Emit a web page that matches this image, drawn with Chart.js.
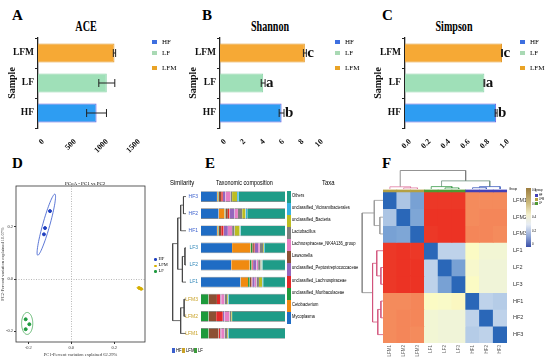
<!DOCTYPE html>
<html>
<head>
<meta charset="utf-8">
<script src="https://cdn.jsdelivr.net/npm/chart.js@4.4.1/dist/chart.umd.min.js"></script>
<style>
  body { margin: 0; width: 550px; height: 360px; position: relative; overflow: hidden; background: #fff; font-family: "Liberation Serif", serif; }
  canvas { position: absolute; }
  .t { position: absolute; white-space: nowrap; line-height: 1; }
  .L { font-weight: bold; font-size: 15px; }
  .ttl { font-weight: bold; font-size: 14px; transform: translate(-50%, -50%) scaleX(0.72); }
  .s5 { font-family: "Liberation Sans", sans-serif; transform-origin: left center; transform: scaleX(0.85); }
</style>
</head>
<body>
<div class="t L" style="left:12px;top:8px">A</div>
<div class="t L" style="left:202px;top:8px">B</div>
<div class="t L" style="left:382px;top:8px">C</div>
<div class="t L" style="left:12px;top:156px">D</div>
<div class="t L" style="left:205px;top:156px">E</div>
<div class="t L" style="left:382px;top:156px">F</div>

<div class="t ttl" style="left:86px;top:27px">ACE</div>
<div class="t ttl" style="left:270px;top:27px">Shannon</div>
<div class="t ttl" style="left:454px;top:27px">Simpson</div>

<canvas id="cA" width="175" height="160" style="left:0;top:0"></canvas>
<canvas id="cB" width="168" height="160" style="left:187px;top:0"></canvas>
<canvas id="cC" width="178" height="160" style="left:372px;top:0"></canvas>
<canvas id="cD" width="175" height="200" style="left:0;top:160px"></canvas>
<canvas id="cEd" width="16" height="154" style="left:170px;top:188px"></canvas>
<canvas id="cE" width="110" height="200" style="left:180px;top:160px"></canvas>
<canvas id="cFt" width="124" height="22" style="left:383px;top:167px"></canvas>
<canvas id="cFl" width="25" height="151" style="left:358px;top:192px"></canvas>
<canvas id="cF" width="195" height="200" style="left:355px;top:160px"></canvas>

<div class="t" style="left:65px;top:181px;font-size:5px">PCoA - PC1 vs PC2</div>

<div class="t s5" style="left:170px;top:179px;font-size:7px">Similarity</div>
<div class="t s5" style="left:216px;top:179px;font-size:7px;transform:scaleX(0.78)">Taxonomic composition</div>
<div class="t s5" style="left:322px;top:179px;font-size:7px">Taxa</div>

<script>
// ---- A, B, C : alpha diversity ----
const groups = ["LFM", "LF", "HF"];
const groupFill = ["#f6a935", "#9fe0b8", "#2e9df2"];
const groupEdge = ["#e39a2c", "#8ed4aa", "#6a5fe0"];
const legendOrder = ["HF", "LF", "LFM"];
const legendColors = ["#3d6fe0", "#a9d9b4", "#e9a326"];

const aceMean = [1195, 1075, 915];
const aceErr = [18, 125, 155];
const aceTicks = [0, 500, 1000, 1500];

const shannonMean = [8.75, 4.45, 6.35];
const shannonErr = [0.15, 0.2, 0.25];
const shannonSig = ["c", "a", "b"];
const shannonTicks = [0, 2, 4, 6, 8, 10];

const simpsonMean = [0.99, 0.81, 0.93];
const simpsonErr = [0.004, 0.004, 0.01];
const simpsonSig = ["c", "a", "b"];
const simpsonTicks = [0, 0.2, 0.4, 0.6, 0.8, 1.0];

// ---- D : PCoA ----
const pcTicks = [-0.2, 0, 0.2];
const hfPts = [{x: -0.099, y: 0.260}, {x: -0.122, y: 0.195}, {x: -0.127, y: 0.171}];
const lfmPts = [{x: 0.315, y: -0.034}, {x: 0.320, y: -0.036}, {x: 0.325, y: -0.038}];
const lfPts = [{x: -0.212, y: -0.154}, {x: -0.195, y: -0.173}, {x: -0.212, y: -0.192}];
const ellCenter = [[-0.116, 0.208], [0.320, -0.036], [-0.205, -0.170]];
const ellAxisA = [[0.040, 0.117], [0.015, -0.003], [0.026, 0]];
const ellAxisB = [[0.0157, -0.0037], [0.0005, 0.004], [0, 0.042]];

// ---- E : taxonomic composition ----
const eSamples = ["HF3", "HF2", "HF1", "LF3", "LF2", "LF1", "LFM3", "LFM2", "LFM1"];
const taxa = ["Mycoplasma", "Cetobacterium", "unclassified_Muribaculaceae", "Lawsonella",
  "unclassified_Lachnospiraceae", "unclassified_Peptostreptococcaceae", "Lachnospiraceae_NK4A136_group",
  "Lactobacillus", "unclassified_Bacteria", "unclassified_Vicinamibacterales", "Others"];
const mycoplasma = [19, 21, 19, 37, 36, 47, 0, 0, 0];
const cetobacterium = [1, 7, 1, 22, 22, 9, 0, 0, 0];
const muribaculaceae = [1, 1, 1, 2, 2, 2, 9, 9, 9];
const lawsonella = [3, 3, 3, 2, 1, 2, 10, 9, 12];
const lachnospiraceae = [2, 2, 3, 1, 1, 1, 4, 8, 2];
const peptostrep = [3, 6, 5, 4, 4, 3, 1, 2, 1];
const nk4a136 = [6, 4, 5, 2, 2, 2, 4, 6, 4];
const lactobacillus = [2, 5, 3, 4, 3, 3, 3, 2, 3];
const bacteria = [6, 4, 6, 1, 1, 4, 1, 1, 1];
const vicinamibacterales = [2, 2, 1, 1, 1, 1, 1, 0, 1];
const others = [55, 45, 53, 24, 27, 26, 67, 63, 67];
const taxaValues = [mycoplasma, cetobacterium, muribaculaceae, lawsonella, lachnospiraceae, peptostrep,
  nk4a136, lactobacillus, bacteria, vicinamibacterales, others];
const taxaColors = ["#1f6cc4", "#f08a10", "#1e9a3c", "#8c4f33", "#e2282a", "#9467bd",
  "#e67fc4", "#7f7f7f", "#bcbd22", "#38b2e2", "#1f9c88"];
const taxaLegend = ["Others", "unclassified_Vicinamibacterales", "unclassified_Bacteria", "Lactobacillus",
  "Lachnospiraceae_NK4A136_group", "Lawsonella", "unclassified_Peptostreptococcaceae",
  "unclassified_Lachnospiraceae", "unclassified_Muribaculaceae", "Cetobacterium", "Mycoplasma"];
// merges: [childA, childB, height]; leaves are 0..8, merge k is node 9+k
const eTree = [[0, 1, 0.19], [9, 2, 0.40], [3, 4, 0.08], [11, 5, 0.27], [6, 7, 0.14], [13, 8, 0.40], [10, 12, 0.62], [15, 14, 1.0]];

// ---- F : distance heatmap ----
const fSamples = ["LFM1", "LFM2", "LFM3", "LF1", "LF2", "LF3", "HF1", "HF2", "HF3"];
const fGroups = ["LFM", "LFM", "LFM", "LF", "LF", "LF", "HF", "HF", "HF"];
const bcDist = [
  [0.00, 0.18, 0.12, 0.96, 0.96, 0.96, 0.80, 0.80, 0.80],
  [0.18, 0.00, 0.13, 0.97, 0.97, 0.97, 0.80, 0.81, 0.81],
  [0.12, 0.13, 0.00, 0.96, 0.97, 0.97, 0.81, 0.81, 0.80],
  [0.96, 0.97, 0.96, 0.00, 0.20, 0.20, 0.53, 0.49, 0.49],
  [0.96, 0.97, 0.97, 0.20, 0.00, 0.12, 0.51, 0.48, 0.48],
  [0.96, 0.97, 0.97, 0.20, 0.12, 0.00, 0.53, 0.48, 0.48],
  [0.80, 0.80, 0.81, 0.53, 0.52, 0.54, 0.00, 0.20, 0.19],
  [0.80, 0.81, 0.81, 0.49, 0.48, 0.48, 0.20, 0.00, 0.20],
  [0.80, 0.81, 0.80, 0.49, 0.48, 0.48, 0.19, 0.20, 0.00]
];
const fTopTree = [[1, 2, 0.06], [0, 9, 0.12], [4, 5, 0.06], [3, 11, 0.13], [6, 7, 0.07], [13, 8, 0.13], [12, 14, 0.44], [10, 15, 1.0]];
const fLeftTree = [[1, 2, 0.15], [0, 9, 0.42], [4, 5, 0.10], [3, 11, 0.30], [6, 7, 0.10], [13, 8, 0.25], [12, 14, 0.50], [10, 15, 1.0]];
const heatStops = [[0, "#2a67b8"], [0.13, "#7ea6d6"], [0.2, "#bed2ea"], [0.35, "#e4ecf3"], [0.47, "#eef3dc"],
  [0.53, "#fbfbc4"], [0.7, "#f8b98a"], [0.8, "#f48b5c"], [0.97, "#ec3324"], [1, "#e8201c"]];
const groupStrip = { LFM: "#b4a044", LF: "#4e9a32", HF: "#4440b6" };

const serif = "Liberation Serif";
const sans = "Liberation Sans";

function hexRgb(h) { return [1, 3, 5].map(i => parseInt(h.slice(i, i + 2), 16)); }
function heatColor(v) {
  for (let i = 1; i < heatStops.length; i++) {
    if (v <= heatStops[i][0]) {
      const [v0, c0] = heatStops[i - 1], [v1, c1] = heatStops[i];
      const t = (v - v0) / (v1 - v0);
      const a = hexRgb(c0), b = hexRgb(c1);
      return "rgb(" + a.map((x, k) => Math.round(x + (b[k] - x) * t)).join(",") + ")";
    }
  }
  return heatStops[heatStops.length - 1][1];
}

// error bars + significance letters
const errorBars = {
  id: "errorBars",
  afterDatasetsDraw(chart, args, opts) {
    const { ctx, scales: { x, y } } = chart;
    const vals = chart.data.datasets[0].data;
    ctx.save();
    ctx.strokeStyle = "#222";
    ctx.lineWidth = 1;
    vals.forEach((v, i) => {
      const yc = y.getPixelForValue(i);
      const x1 = x.getPixelForValue(v - opts.err[i]);
      const x2 = x.getPixelForValue(v + opts.err[i]);
      ctx.beginPath();
      ctx.moveTo(x1, yc); ctx.lineTo(x2, yc);
      ctx.moveTo(x1, yc - 4); ctx.lineTo(x1, yc + 4);
      ctx.moveTo(x2, yc - 4); ctx.lineTo(x2, yc + 4);
      ctx.stroke();
      if (opts.sig) {
        ctx.fillStyle = "#111";
        ctx.font = "bold 15px " + serif;
        ctx.textBaseline = "middle";
        ctx.textAlign = "left";
        ctx.fillText(opts.sig[i], x2 + 1, yc);
      }
    });
    ctx.restore();
  }
};

function alphaChart(id, means, errs, sig, ticksList, fmt, padL, yW, padR) {
  return new Chart(document.getElementById(id), {
    type: "bar",
    data: {
      labels: groups,
      datasets: [{ data: means, backgroundColor: groupFill, borderColor: groupEdge, borderWidth: 1,
        barPercentage: 0.95, categoryPercentage: 0.66 }]
    },
    options: {
      indexAxis: "y", responsive: false, animation: false,
      layout: { padding: { left: padL, right: padR, top: 38, bottom: 7 } },
      plugins: { legend: { display: false }, tooltip: { enabled: false }, errorBars: { err: errs, sig: sig } },
      scales: {
        x: {
          min: ticksList[0], max: ticksList[ticksList.length - 1],
          afterBuildTicks: s => { s.ticks = ticksList.map(v => ({ value: v })); },
          ticks: { minRotation: 45, maxRotation: 45, color: "#111", padding: 1, labelOffset: 5,
            font: { family: serif, size: 8, weight: "bold" }, callback: v => fmt(v) },
          grid: { display: false }, border: { display: false },
          afterFit: s => { s.height = 25; }
        },
        y: {
          ticks: { color: "#111", padding: 1, font: { family: serif, size: 9.5, weight: "bold" } },
          grid: { drawOnChartArea: false, color: "#222", tickLength: 3 },
          border: { color: "#222", width: 1.3 },
          title: { display: true, text: "Sample", color: "#111", padding: 0, font: { family: serif, size: 10, weight: "bold" } },
          afterFit: s => { s.width = yW; }
        }
      }
    },
    plugins: [errorBars]
  });
}

alphaChart("cA", aceMean, aceErr, null, aceTicks, v => String(v), 6, 32, 41);
alphaChart("cB", shannonMean, shannonErr, shannonSig, shannonTicks, v => String(v), 0, 33, 38);
alphaChart("cC", simpsonMean, simpsonErr, simpsonSig, simpsonTicks, v => v.toFixed(1), 0, 33, 47);

function addText(txt, x, y, css, cls) {
  const d = document.createElement("div");
  d.className = "t " + (cls || "");
  d.textContent = txt;
  d.style.cssText = "left:" + x + "px;top:" + y + "px;" + (css || "");
  document.body.appendChild(d);
  return d;
}
function addBox(x, y, w, h, color) {
  const d = document.createElement("div");
  d.style.cssText = "position:absolute;left:" + x + "px;top:" + y + "px;width:" + w + "px;height:" + h + "px;background:" + color;
  document.body.appendChild(d);
  return d;
}
// legends of A, B, C
[152, 335, 520].forEach(lx => {
  legendOrder.forEach((g, i) => {
    const yy = [40, 51, 66][i];
    addBox(lx, yy, 5, 4, legendColors[i]);
    addText(g, lx + 10, yy - 1, "font-size:7px");
  });
});

// ---- D ----
const frame = {
  id: "frame",
  afterDatasetsDraw(chart) {
    const { ctx, chartArea: a } = chart;
    ctx.save();
    ctx.strokeStyle = "#333";
    ctx.lineWidth = 0.8;
    ctx.strokeRect(a.left, a.top, a.right - a.left, a.bottom - a.top);
    ctx.restore();
  }
};
const ellipses = {
  id: "ellipses",
  afterDatasetsDraw(chart, args, opts) {
    const { ctx, scales: { x, y } } = chart;
    ctx.save();
    ctx.lineWidth = 0.8;
    ellCenter.forEach((c, k) => {
      const A = ellAxisA[k], B = ellAxisB[k];
      ctx.strokeStyle = opts.colors[k];
      ctx.beginPath();
      for (let s = 0; s <= 72; s++) {
        const t = s / 72 * Math.PI * 2;
        const px = x.getPixelForValue(c[0] + A[0] * Math.cos(t) + B[0] * Math.sin(t));
        const py = y.getPixelForValue(c[1] + A[1] * Math.cos(t) + B[1] * Math.sin(t));
        if (s === 0) ctx.moveTo(px, py); else ctx.lineTo(px, py);
      }
      ctx.stroke();
    });
    ctx.restore();
  }
};
const zeroGrid = c => (c.tick && Math.abs(c.tick.value) < 1e-9) ? "#b8b8b8" : "rgba(0,0,0,0)";
new Chart(document.getElementById("cD"), {
  type: "scatter",
  data: {
    datasets: [
      { label: "HF", data: hfPts, backgroundColor: "#1f3fbf", borderColor: "#1f3fbf", pointRadius: 1.5 },
      { label: "LFM", data: lfmPts, backgroundColor: "#d8b000", borderColor: "#d8b000", pointRadius: 1.3 },
      { label: "LF", data: lfPts, backgroundColor: "#1e9a3e", borderColor: "#1e9a3e", pointRadius: 1.5 }
    ]
  },
  options: {
    responsive: false, animation: false,
    layout: { padding: { left: 0, right: 30, top: 26, bottom: 2 } },
    plugins: { legend: { display: false }, tooltip: { enabled: false },
      ellipses: { colors: ["#3355cc", "#d4b000", "#44aa55"] } },
    scales: {
      x: {
        type: "linear", min: -0.257, max: 0.343,
        afterBuildTicks: s => { s.ticks = pcTicks.map(v => ({ value: v })); },
        ticks: { color: "#333", padding: 1, font: { family: serif, size: 4.5 }, callback: v => v.toFixed(1) },
        grid: { color: zeroGrid, tickColor: "#333", tickLength: 2 },
        border: { display: false, dash: [1, 1.5] },
        title: { display: true, text: "PC1-Percent variation explained 62.29%", color: "#333", padding: 0, font: { family: serif, size: 4.5 } },
        afterFit: s => { s.height = 16; }
      },
      y: {
        type: "linear", min: -0.241, max: 0.356,
        afterBuildTicks: s => { s.ticks = pcTicks.map(v => ({ value: v })); },
        ticks: { color: "#333", padding: 1, font: { family: serif, size: 4.5 }, callback: v => v.toFixed(1) },
        grid: { color: zeroGrid, tickColor: "#333", tickLength: 2 },
        border: { display: false, dash: [1, 1.5] },
        title: { display: true, text: "PC2-Percent variation explained 10.07%", color: "#333", padding: 0, font: { family: serif, size: 4.5 } },
        afterFit: s => { s.width = 16; }
      }
    }
  },
  plugins: [ellipses, frame]
});
[["HF", "#1f3fbf"], ["LFM", "#d8b000"], ["LF", "#1e9a3e"]].forEach(([g, c], i) => {
  const yy = [259, 265.5, 271][i];
  addText("", 154, yy - 1, "width:2.6px;height:2.6px;border-radius:50%;background:" + c);
  addText(g, 158.5, yy - 2.2, "font-size:4.5px");
});

// ---- dendrograms ----
function dendroSegments(merges, nLeaves) {
  const pos = [], ht = [];
  for (let i = 0; i < nLeaves; i++) { pos.push(i); ht.push(0); }
  return merges.map(([a, b, h]) => {
    const seg = [[pos[a], ht[a]], [pos[a], h], [pos[b], h], [pos[b], ht[b]]];
    pos.push((pos[a] + pos[b]) / 2);
    ht.push(h);
    return seg;
  });
}
function dendroChart(id, merges, colors, horizontal, hMax) {
  const segs = dendroSegments(merges, 9);
  return new Chart(document.getElementById(id), {
    type: "scatter",
    data: {
      datasets: segs.map((s, i) => ({
        data: s.map(([p, h]) => horizontal ? { x: h, y: p } : { x: p, y: h }),
        showLine: true, borderColor: colors[i], borderWidth: 0.8, pointRadius: 0, clip: false
      }))
    },
    options: {
      responsive: false, animation: false,
      layout: { padding: 0 },
      plugins: { legend: { display: false }, tooltip: { enabled: false } },
      scales: horizontal
        ? { x: { type: "linear", min: 0, max: hMax, reverse: true, display: false },
            y: { type: "linear", min: -0.5, max: 8.5, reverse: true, display: false } }
        : { x: { type: "linear", min: -0.5, max: 8.5, display: false },
            y: { type: "linear", min: 0, max: hMax, display: false } }
    }
  });
}
dendroChart("cEd", eTree, eTree.map(() => "#444"), true, 1.2);
dendroChart("cFt", fTopTree, ["#e07aa0", "#e07aa0", "#3a9a4a", "#3a9a4a", "#4060c0", "#4060c0", "#6f8f7f", "#777"], false, 1.19);
dendroChart("cFl", fLeftTree, ["#999", "#999", "#d0507a", "#d0507a", "#d0507a", "#d0507a", "#d0507a", "#888"], true, 1.2);

// ---- E bars ----
const leafColor = s => s.startsWith("LFM") ? "#c9a227" : (s.startsWith("LF") ? "#2f86b8" : "#3a5fcd");
new Chart(document.getElementById("cE"), {
  type: "bar",
  data: {
    labels: eSamples,
    datasets: taxa.map((t, k) => ({
      label: t, data: taxaValues[k], backgroundColor: taxaColors[k],
      borderColor: "#6e6e6e", borderWidth: { top: 0.7, bottom: 0.7, left: 0, right: 0 },
      barPercentage: 0.63, categoryPercentage: 1
    }))
  },
  options: {
    indexAxis: "y", responsive: false, animation: false,
    layout: { padding: { left: 0, right: 5, top: 28, bottom: 18 } },
    plugins: { legend: { display: false }, tooltip: { enabled: false } },
    scales: {
      x: { stacked: true, min: 0, max: 100, display: false },
      y: {
        stacked: true,
        ticks: { color: c => leafColor(eSamples[c.index]), padding: 3, font: { family: sans, size: 5 } },
        grid: { display: false, drawTicks: false }, border: { display: false },
        afterFit: s => { s.width = 21; }
      }
    }
  }
});
taxaLegend.forEach((t, i) => {
  const k = taxa.indexOf(t);
  addBox(286.5, 190.5 + i * 12.15, 4, 12.2, taxaColors[k]);
  addText(t, 292, 193.5 + i * 12.15, "font-size:4.8px", "s5");
});
[["HF", "#3a5fcd"], ["LFM", "#c9a227"], ["LF", "#3c9a3c"]].forEach(([g, c], i) => {
  const xx = [172, 182, 194][i];
  addBox(xx, 347.5, 2.5, 5, c);
  addText(g, xx + 3.5, 347.5, "font-size:5px", "s5");
});

// ---- F heatmap ----
new Chart(document.getElementById("cF"), {
  type: "bar",
  data: {
    labels: fSamples,
    datasets: [{ data: fGroups.map(() => -0.15), backgroundColor: fGroups.map(g => groupStrip[g]) }]
      .concat(bcDist.map(row => ({ data: row.map(() => 1), backgroundColor: row.map(heatColor) })))
      .map(d => Object.assign(d, { barPercentage: 1, categoryPercentage: 1, borderWidth: 0 }))
  },
  options: {
    responsive: false, animation: false,
    layout: { padding: { left: 28, right: 0, top: 29.5, bottom: 0 } },
    plugins: { legend: { display: false }, tooltip: { enabled: false } },
    scales: {
      x: {
        stacked: true,
        ticks: { autoSkip: false, minRotation: 90, maxRotation: 90, color: "#666", padding: 2, font: { family: sans, size: 4.5 } },
        grid: { display: false, drawTicks: false }, border: { display: false },
        afterFit: s => { s.height = 17; }
      },
      y: {
        type: "linear", stacked: true, min: -0.15, max: 9, reverse: true, position: "right",
        afterBuildTicks: s => { s.ticks = fSamples.map((_, i) => ({ value: i + 0.5 })); },
        ticks: { callback: (v, i) => fSamples[i], color: "#333", padding: 6, font: { family: sans, size: 5.5 } },
        grid: { display: false, drawTicks: false }, border: { display: false },
        afterFit: s => { s.width = 43; }
      }
    }
  }
});
addText("Group", 509, 187.5, "font-size:3.5px", "s5");
const cbar = addBox(526, 188, 5, 59, "#ccc");
cbar.style.background = "linear-gradient(#9c7d3f, #cbb97c 25%, #f3efcc 45%, #e6ecf4 62%, #8fa6d6 82%, #3a4fa8)";
["0.8", "0.6", "0.4", "0.2", "0"].forEach((t, i) => addText(t, 532, 189 + i * 13.5, "font-size:3.5px", "s5"));
addText("group", 535, 189, "font-size:3.5px", "s5");
[["HF", groupStrip.HF], ["LFM", groupStrip.LFM], ["LF", groupStrip.LF]].forEach(([g, c], i) => {
  addBox(535, 193.5 + i * 4, 3, 3, c);
  addText(g, 539, 193.5 + i * 4, "font-size:3px", "s5");
});
</script>
</body>
</html>
